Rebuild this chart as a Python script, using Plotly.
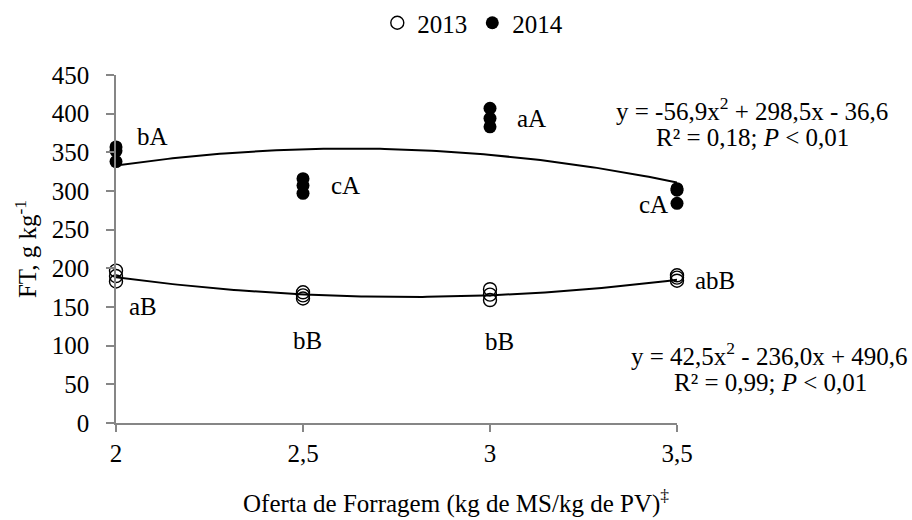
import numpy as np
import plotly.graph_objects as go

# ---- data ----
x_levels = [2, 2.5, 3, 3.5]
y2013 = [[197, 190, 183], [169, 165, 161], [173, 166, 159], [191, 188, 184]]
y2014 = [[357, 352, 338], [316, 307, 297], [407, 394, 383], [303, 301, 284]]
letters2013 = ["aB", "bB", "bB", "abB"]
letters2014 = ["bA", "cA", "aA", "cA"]
coef2013 = [42.5, -236.0, 490.6]
coef2014 = [-56.9, 298.5, -36.6]
eq2013 = ["y = 42,5x<sup>2</sup> - 236,0x + 490,6", "R² = 0,99; <i>P</i> < 0,01"]
eq2014 = ["y = -56,9x<sup>2</sup> + 298,5x - 36,6", "R² = 0,18; <i>P</i> < 0,01"]
x_tickvals = [2, 2.5, 3, 3.5]
x_ticktext = ["2", "2,5", "3", "3,5"]
y_tickvals = [0, 50, 100, 150, 200, 250, 300, 350, 400, 450]
series_names = ["2013", "2014"]
x_title = "Oferta de Forragem (kg de MS/kg de PV)<sup>‡</sup>"
y_title = "FT, g kg<sup>-1</sup>"

FONT = "Liberation Serif"
FS = 25

fig = go.Figure()

def flat(groups):
    xs, ys = [], []
    for xv, g in zip(x_levels, groups):
        for v in g:
            xs.append(xv)
            ys.append(v)
    return xs, ys

xs13, ys13 = flat(y2013)
xs14, ys14 = flat(y2014)

fig.add_trace(go.Scatter(x=xs13, y=ys13, mode="markers", name=series_names[0],
                         marker=dict(symbol="circle-open", size=13, color="black",
                                     line=dict(width=1.4, color="black")),
                         cliponaxis=False))
fig.add_trace(go.Scatter(x=xs14, y=ys14, mode="markers", name=series_names[1],
                         marker=dict(symbol="circle", size=13, color="black"),
                         cliponaxis=False))

xs_fit = np.linspace(min(x_levels), max(x_levels), 120)
for coef in (coef2013, coef2014):
    fig.add_trace(go.Scatter(x=xs_fit, y=np.polyval(coef, xs_fit), mode="lines",
                             line=dict(color="black", width=2), showlegend=False,
                             hoverinfo="skip", cliponaxis=False))

# letter labels (anchor, xshift, yshift)
style2014 = [("max", 36, 10), ("mid", 42, 0), ("mid", 41, 0), ("min", -24, -1)]
style2013 = [("min", 27, -25), ("min", 4, -42), ("min", 9, -41), ("mid", 38, -3)]

def anchor_val(g, a):
    s = sorted(g)
    return {"max": s[-1], "min": s[0], "mid": s[len(s) // 2]}[a]

annos = []
for groups, letters, styles in ((y2014, letters2014, style2014), (y2013, letters2013, style2013)):
    for xv, g, lab, (a, dx, dy) in zip(x_levels, groups, letters, styles):
        annos.append(dict(x=xv, y=anchor_val(g, a), text=lab, showarrow=False,
                          xanchor="center", yanchor="middle", xshift=dx, yshift=dy,
                          font=dict(family=FONT, size=FS, color="black")))

# equations: (lines, right edge of first line, centre of second line, y of lines)
eq_pos = [(eq2014, 1.3797, 1.1337, [0.9023, 0.8218]),
          (eq2013, 1.4153, 1.1658, [0.1983, 0.1178])]
for lines, xr, xc, yps in eq_pos:
    annos.append(dict(x=xr, y=yps[0], xref="paper", yref="paper", text=lines[0],
                      showarrow=False, xanchor="right", yanchor="middle",
                      font=dict(family=FONT, size=FS, color="black")))
    annos.append(dict(x=xc, y=yps[1], xref="paper", yref="paper", text=lines[1],
                      showarrow=False, xanchor="center", yanchor="middle",
                      font=dict(family=FONT, size=FS, color="black")))

# x-axis title (centred on the chart as in the reference)
annos.append(dict(x=0.606, y=-0.2787, xref="paper", yref="paper", text=x_title,
                  showarrow=False, xanchor="center", yanchor="bottom",
                  font=dict(family=FONT, size=FS, color="black")))

fig.update_layout(
    width=912, height=520,
    margin=dict(l=116, r=235, t=75, b=97),
    paper_bgcolor="white", plot_bgcolor="white",
    font=dict(family=FONT, size=FS, color="black"),
    showlegend=True,
    legend=dict(orientation="h", x=0.636, xanchor="center",
                yref="container", y=1.0, yanchor="top",
                font=dict(family=FONT, size=FS, color="black"),
                itemwidth=30, tracegroupgap=0, bgcolor="rgba(0,0,0,0)"),
    annotations=annos,
)
fig.update_xaxes(range=[2, 3.5], tickvals=x_tickvals, ticktext=x_ticktext,
                 showline=True, linecolor="#868686", linewidth=1.5,
                 ticks="outside", ticklen=7, tickcolor="#868686", tickwidth=1.5,
                 ticklabelstandoff=0,
                 showgrid=False, zeroline=False,
                 tickfont=dict(family=FONT, size=FS))
fig.update_yaxes(range=[0, 450], tickvals=y_tickvals,
                 showline=True, linecolor="#868686", linewidth=1.5,
                 ticks="outside", ticklen=8, tickcolor="#868686", tickwidth=1.5,
                 ticklabelstandoff=12,
                 showgrid=False, zeroline=False,
                 title=dict(text=y_title, standoff=8,
                            font=dict(family=FONT, size=FS)),
                 tickfont=dict(family=FONT, size=FS))

fig.write_html("out.html",
               config={"displayModeBar": False},
               post_script="document.body.style.margin='0';"
                           "document.body.style.overflow='hidden';")
